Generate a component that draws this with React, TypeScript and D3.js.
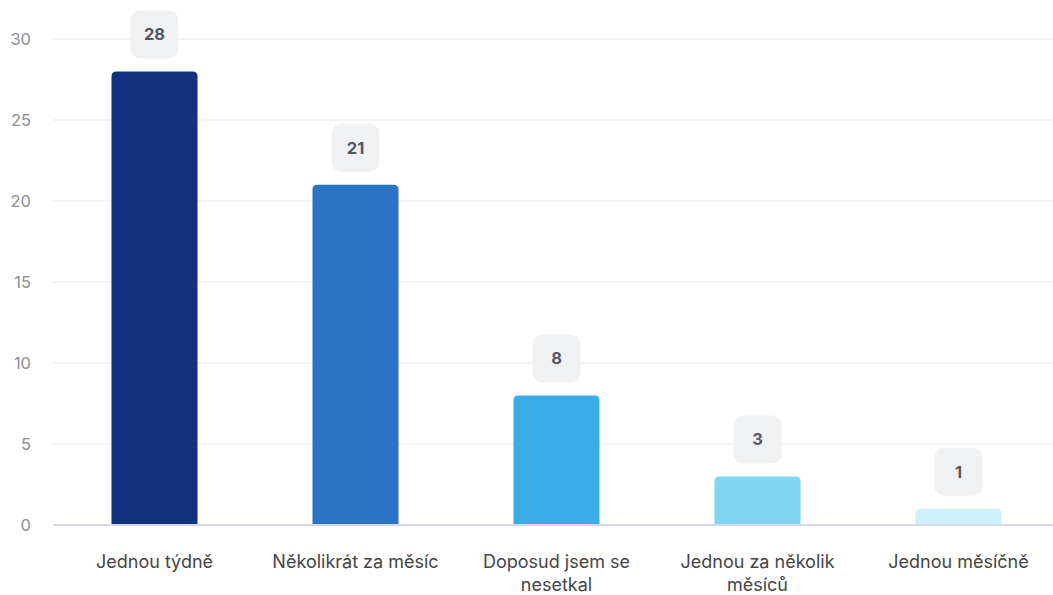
import React from "react";
import * as d3 from "d3";

const categories = ["Jednou týdně", "Několikrát za měsíc", "Doposud jsem se nesetkal", "Jednou za několik měsíců", "Jednou měsíčně"];
const categoryLines = [["Jednou týdně"], ["Několikrát za měsíc"], ["Doposud jsem se", "nesetkal"], ["Jednou za několik", "měsíců"], ["Jednou měsíčně"]];
const values = [28, 21, 8, 3, 1];
const colors = ["#13317f", "#2b73c4", "#3aade6", "#80d6f2", "#cdf0fa"];
const yTicks = [0, 5, 10, 15, 20, 25, 30];

const W = 1053, H = 595;

function topRounded(x: number, y: number, w: number, h: number, r: number) {
  const rr = Math.min(r, h, w / 2);
  return `M${x},${y + h}V${y + rr}Q${x},${y} ${x + rr},${y}H${x + w - rr}Q${x + w},${y} ${x + w},${y + rr}V${y + h}Z`;
}

export default function App() {
  const y = d3.scaleLinear().domain([0, 30]).range([525, 39]);
  const x = d3.scaleBand<string>().domain(categories).range([54, 1059]).paddingInner(0.572).paddingOuter(0.286);
  const bw = x.bandwidth();
  const font = "Inter, 'Noto Sans', sans-serif";
  return (
    <svg width={W} height={H} style={{ position: "absolute", left: 0, top: 0, background: "#fff" }}>
      {yTicks.map((t) => (
        <g key={t}>
          {t !== 0 && <line x1={53} x2={W} y1={y(t)} y2={y(t)} stroke="#e7e9ee" strokeWidth={1} />}
          <text x={31} y={y(t)} dy="0.35em" textAnchor="end" fontSize={16.5} fill="#8c8e92" fontFamily={font}>{t}</text>
        </g>
      ))}
      {categories.map((c, i) => {
        const bx = x(c)!;
        const by = y(values[i]);
        const cx = bx + bw / 2;
        return (
          <g key={c}>
            <path d={topRounded(bx, by, bw, y(0) - by, 5)} fill={colors[i]} />
            <rect x={cx - 24} y={by - 61} width={48} height={48} rx={10} fill="#f0f1f2" />
            <text x={cx} y={by - 37} dy="0.35em" textAnchor="middle" fontSize={16.5} fontWeight={700} fill="#545866" fontFamily={font}>{values[i]}</text>
            {categoryLines[i].map((l, j) => (
              <text key={j} x={cx} y={562 + j * 23} dy="0.35em" textAnchor="middle" fontSize={18} fill="#454545" fontFamily={font}>{l}</text>
            ))}
          </g>
        );
      })}
      <line x1={53} x2={W} y1={y(0)} y2={y(0)} stroke="#d5d9ea" strokeWidth={2} />
    </svg>
  );
}
